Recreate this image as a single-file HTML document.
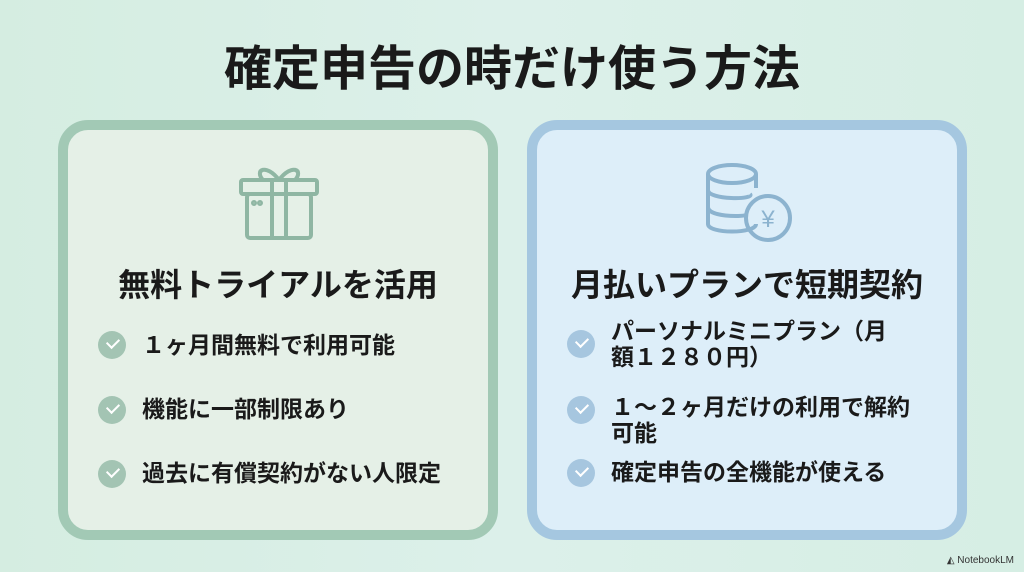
<!DOCTYPE html>
<html><head><meta charset="utf-8"><style>
*{margin:0;padding:0;box-sizing:border-box}
body{width:1024px;height:572px;overflow:hidden;background:linear-gradient(90deg,#d5ede1 0%,#dcf0ea 50%,#d6eee4 100%);font-family:"Liberation Sans","Noto Sans CJK JP",sans-serif;position:relative;color:#1a1a1a}
.t{position:absolute;left:0;width:1024px;top:29px;text-align:center;font-size:48px;font-weight:bold;letter-spacing:0}
.p{position:absolute;top:120px;width:440px;height:420px;border-radius:30px;border:10px solid}
.l{left:58px;border-color:#a2c9b5;background:#e5f0e7}
.r{left:527px;border-color:#a5c7e0;background:#ddeef9}
.h{position:absolute;left:0;width:100%;top:130px;text-align:center;font-size:32px;font-weight:bold}
.it{position:absolute;left:74px;font-size:23px;font-weight:bold;line-height:26px;white-space:nowrap}
.ck{position:absolute;width:28px;height:28px;border-radius:50%;left:30px}
.l .ck{background:#a3c4b3}.r .ck{background:#a6c6df}
.ck:after{content:"";position:absolute;left:9px;top:7px;width:10px;height:6px;border-left:2.5px solid #fff;border-bottom:2.5px solid #fff;transform:rotate(-45deg)}
.nb{position:absolute;right:10px;bottom:6px;font-size:10px;color:#333}
</style></head><body>
<div class="t">確定申告の時だけ使う方法</div>
<div class="p l">
<svg style="position:absolute;left:168px;top:28px" width="86" height="86" viewBox="0 0 86 86" fill="none" stroke="#8fb6a3" stroke-width="4" stroke-linejoin="round">
<path d="M43 22 C30 5 18 12 27 22 Z M43 22 C56 5 68 12 59 22 Z"/>
<rect x="5" y="22" width="76" height="14" rx="2"/>
<rect x="11" y="36" width="64" height="44" rx="3"/>
<line x1="36" y1="22" x2="36" y2="80"/><line x1="50" y1="22" x2="50" y2="80"/>
<circle cx="18" cy="45" r="1" fill="#8fb6a3"/><circle cx="24" cy="45" r="1" fill="#8fb6a3"/>
</svg>
<div class="h">無料トライアルを活用</div>
<div class="ck" style="top:201px"></div><div class="it" style="top:202px">１ヶ月間無料で利用可能</div>
<div class="ck" style="top:266px"></div><div class="it" style="top:266px">機能に一部制限あり</div>
<div class="ck" style="top:330px"></div><div class="it" style="top:330px">過去に有償契約がない人限定</div>
</div>
<div class="p r">
<svg style="position:absolute;left:165px;top:30px" width="100" height="90" viewBox="0 0 100 90" fill="none" stroke="#8cb3cf" stroke-width="4">
<ellipse cx="30" cy="14" rx="24" ry="9"/>
<path d="M6 14 V64 C6 74 54 74 54 64 M6 30 C6 40 54 40 48 34 M6 47 C6 57 40 57 44 55 M54 14 V28"/>
<circle cx="66" cy="58" r="22"/>
<text x="66" y="67" font-size="24" text-anchor="middle" fill="#8cb3cf" stroke="none" font-family="Liberation Sans,sans-serif">¥</text>
</svg>
<div class="h">月払いプランで短期契約</div>
<div class="ck" style="top:200px"></div><div class="it" style="top:188px">パーソナルミニプラン（月<br>額１２８０円）</div>
<div class="ck" style="top:266px"></div><div class="it" style="top:264px">１～２ヶ月だけの利用で解約<br>可能</div>
<div class="ck" style="top:329px"></div><div class="it" style="top:329px">確定申告の全機能が使える</div>
</div>
<div class="nb">◭ NotebookLM</div>
</body></html>
